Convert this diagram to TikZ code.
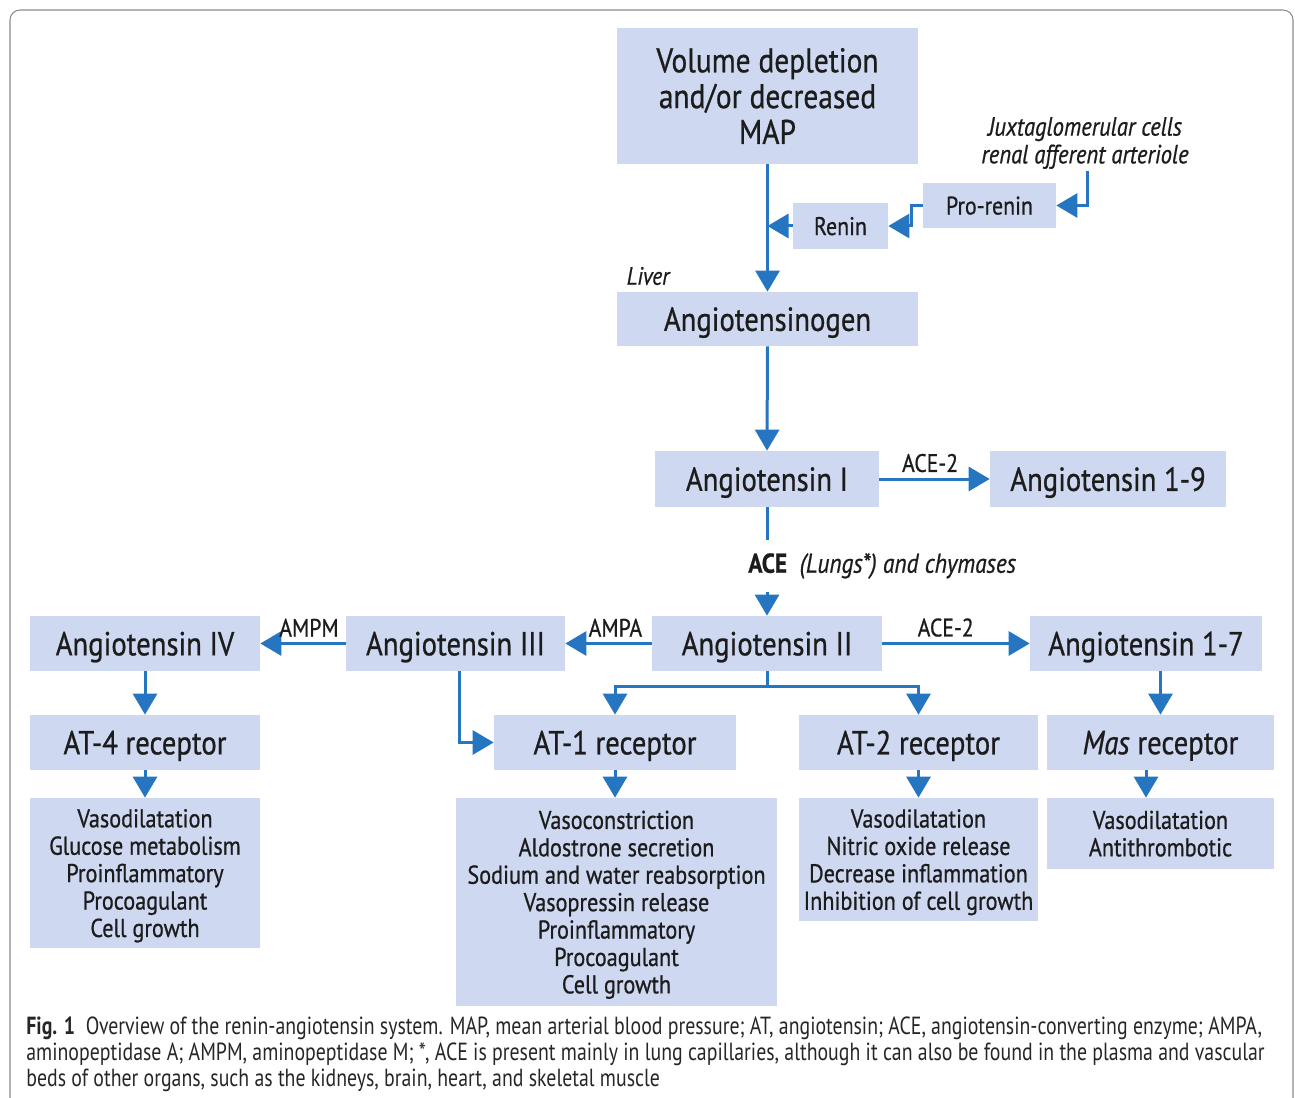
\documentclass[tikz,border=0pt]{standalone}
\usepackage{fontspec}
\setmainfont{PT Sans}
\newfontfamily\boxfont[FakeStretch=0.86,FakeBold=0.7]{PT Sans}
\newfontfamily\capfont[FakeStretch=0.80]{PT Sans}
\usetikzlibrary{arrows.meta,positioning}
\definecolor{boxblue}{RGB}{206,216,240}
\definecolor{flowblue}{RGB}{38,117,192}
\definecolor{ink}{RGB}{28,28,28}

\begin{document}
\begin{tikzpicture}[x=0.02cm,y=-0.02cm]
                \tikzstyle{box} = [fill=boxblue, text=ink, inner sep=0pt, align=center, text depth=0pt, font=\boxfont\fontsize{19}{20}\selectfont];
                \tikzstyle{effect} = [box, font=\boxfont\fontsize{14.7}{15.6}\selectfont];
                \tikzstyle{enz} = [text=ink, inner sep=1pt, font=\boxfont\fontsize{14.4}{16}\selectfont];
                \tikzstyle{line} = [draw=flowblue, line width=0.06cm];
                \tikzstyle{flow} = [line, -{Triangle[length=4.2mm,width=4.8mm]}];

                \clip (0,0) rectangle (1295,1098);
                \draw[black!45, line width=0.6pt, rounded corners=0.2cm] (10,10) rectangle (1293,1130);

                \node[box, minimum width=6.02cm, minimum height=2.72cm, font=\boxfont\fontsize{19.5}{20.4}\selectfont](Vol) at (767.5,96) {Volume depletion\\and/or decreased\\MAP};
                \node[enz, align=center, font=\boxfont\itshape\fontsize{15}{15.8}\selectfont](Jux) at (1085,143) {Juxtaglomerular cells\\renal afferent arteriole};
                \node[box, minimum width=2.66cm, minimum height=0.9cm, font=\boxfont\fontsize{14.5}{16}\selectfont](Pro) at (989.5,205.5) {Pro-renin};
                \node[box, minimum width=1.9cm, minimum height=0.92cm, font=\boxfont\fontsize{14.5}{16}\selectfont](Renin) at (840.5,226) {Renin};
                \node[enz, font=\boxfont\itshape\fontsize{14.3}{15}\selectfont](Liver) at (648,276) {Liver};
                \node[box, minimum width=6.02cm, minimum height=1.08cm](Agen) at (767.5,319) {Angiotensinogen};

                \node[box, minimum width=4.48cm, minimum height=1.12cm](AngI) at (767,479) {Angiotensin I};
                \node[box, minimum width=4.72cm, minimum height=1.12cm](Ang19) at (1108,479) {Angiotensin 1-9};
                \node[enz, anchor=west, inner xsep=0pt, inner ysep=0.26cm, font=\boxfont\fontsize{15.5}{16}\selectfont](Ace) at (748,566) {\textbf{ACE}\ \ \textit{(Lungs*) and chymases}};

                \node[box, minimum width=4.6cm, minimum height=1.1cm](AngII) at (767,643.5) {Angiotensin II};
                \node[box, minimum width=4.38cm, minimum height=1.1cm](AngIII) at (455.5,643.5) {Angiotensin III};
                \node[box, minimum width=4.6cm, minimum height=1.1cm](AngIV) at (145,643.5) {Angiotensin IV};
                \node[box, minimum width=4.64cm, minimum height=1.1cm](Ang17) at (1146,643.5) {Angiotensin 1-7};

                \node[box, minimum width=4.6cm, minimum height=1.1cm](AT4) at (145,742.5) {AT-4 receptor};
                \node[box, minimum width=4.84cm, minimum height=1.1cm](AT1) at (615,742.5) {AT-1 receptor};
                \node[box, minimum width=4.78cm, minimum height=1.1cm](AT2) at (918.5,742.5) {AT-2 receptor};
                \node[box, minimum width=4.54cm, minimum height=1.1cm](Mas) at (1160.5,742.5) {\textit{Mas} receptor};

                \node[effect, minimum width=4.6cm, minimum height=3.0cm](EffIV) at (145,873) {Vasodilatation\\Glucose metabolism\\Proinflammatory\\Procoagulant\\Cell growth};
                \node[effect, minimum width=6.42cm, minimum height=4.16cm](EffI) at (616.5,902) {Vasoconstriction\\Aldostrone secretion\\Sodium and water reabsorption\\Vasopressin release\\Proinflammatory\\Procoagulant\\Cell growth};
                \node[effect, minimum width=4.78cm, minimum height=2.46cm](EffII) at (918.5,859.5) {Vasodilatation\\Nitric oxide release\\Decrease inflammation\\Inhibition of cell growth};
                \node[effect, minimum width=4.54cm, minimum height=1.42cm](EffMas) at (1160.5,833.5) {Vasodilatation\\Antithrombotic};

                \draw[flow] (Vol.south) -- (Agen.north);
                \draw[flow] (Renin.west) -- (Renin.west -| Vol.south);
                \draw[flow] (Pro.west) -- ++(-11,0) |- (Renin.east);
                \draw[flow] ([xshift=0.04cm]Jux.south) |- (Pro.east);
                \draw[flow] (Agen.south) -- (AngI.north);
                \draw[flow] (AngI.east) -- node[enz, above=2pt, pos=0.46]{ACE-2} (Ang19.west);
                \draw[line] (AngI.south) -- (AngI.south |- Ace.north);
                \draw[flow] (AngII.north |- Ace.south) -- (AngII.north);

                \draw[flow] (AngII.west) -- node[enz, above=2pt, pos=0.42]{AMPA} (AngIII.east);
                \draw[flow] (AngIII.west) -- node[enz, above=2pt, pos=0.43]{AMPM} (AngIV.east);
                \draw[flow] (AngII.east) -- node[enz, above=2pt, pos=0.43]{ACE-2} (Ang17.west);
                \draw[line] (AngII.south) -- ++(0,15) coordinate (Split);
                \draw[flow] (Split) -| (AT1.north);
                \draw[flow] (Split) -| (AT2.north);
                \draw[flow] ([xshift=0.07cm]AngIII.south) |- (AT1.west);
                \draw[flow] (AngIV.south) -- (AT4.north);
                \draw[flow] (Ang17.south -| Mas.north) -- (Mas.north);

                \draw[flow] (AT4.south) -- (EffIV.north);
                \draw[flow] (AT1.south) -- (AT1.south |- EffI.north);
                \draw[flow] (AT2.south) -- (EffII.north);
                \draw[flow] (Mas.south -| Ang17.south) -- (Ang17.south |- EffMas.north);

                \node[anchor=north west, align=left, inner sep=0pt, text=black!85, font=\capfont\fontsize{14.1}{14.7}\selectfont](Cap) at (26,1017) {\textbf{Fig. 1}\ \ Overview of the renin-angiotensin system. MAP, mean arterial blood pressure; AT, angiotensin; ACE, angiotensin-converting enzyme; AMPA,\\aminopeptidase A; AMPM, aminopeptidase M; *, ACE is present mainly in lung capillaries, although it can also be found in the plasma and vascular\\beds of other organs, such as the kidneys, brain, heart, and skeletal muscle};
            \end{tikzpicture}
\end{document}
